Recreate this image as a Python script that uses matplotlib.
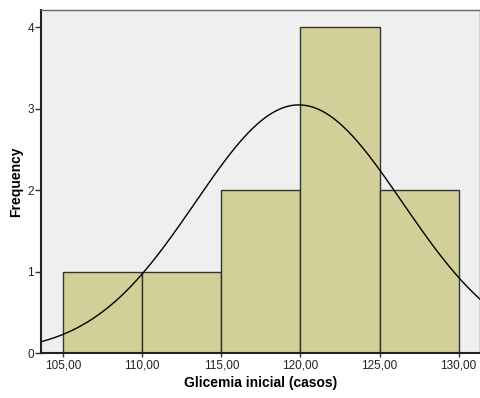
import numpy as np
import matplotlib
matplotlib.use('Agg')
import matplotlib.pyplot as plt

# Histogram data
bin_edges = [105, 110, 115, 120, 125, 130]
counts = [1, 1, 2, 4, 2]
x_ticks = [105, 110, 115, 120, 125, 130]
y_ticks = [0, 1, 2, 3, 4]
n_obs = 10
mean_val = 119.9
sd_val = 6.55

plt.rcParams['font.family'] = ['Liberation Sans', 'DejaVu Sans']

fig = plt.figure(figsize=(4.81, 3.98), dpi=100)
ax = fig.add_axes([41 / 481, 1 - 353 / 398, 439 / 481, 343 / 398])
ax.set_facecolor('#EFEFEF')

widths = np.diff(bin_edges)
ax.bar(bin_edges[:-1], counts, width=widths, align='edge',
       color='#D3CF98', edgecolor='#333333', linewidth=1.0, zorder=2)

# normal curve scaled to counts
xs = np.linspace(103.6, 131.4, 400)
bw = widths[0]
ys = n_obs * bw / (sd_val * np.sqrt(2 * np.pi)) * np.exp(-0.5 * ((xs - mean_val) / sd_val) ** 2)
ax.plot(xs, ys, color='black', linewidth=1.0, zorder=3)

ax.set_xlim(103.6, 131.35)
ax.set_ylim(0, 4.21)
ax.set_xticks(x_ticks)
ax.set_xticklabels([f'{v:.2f}'.replace('.', ',') for v in x_ticks], fontsize=8.5, color='#222222')
ax.set_yticks(y_ticks)
ax.set_yticklabels([str(v) for v in y_ticks], fontsize=8.5, color='#222222')
ax.tick_params(axis='y', length=4, width=1, color='#333333', pad=1)
ax.tick_params(axis='x', length=3, width=1, color='#333333', pad=2)

for s in ['left', 'bottom']:
    ax.spines[s].set_color('#222222')
    ax.spines[s].set_linewidth(1.5)
for s in ['top', 'right']:
    ax.spines[s].set_color('#666666')
    ax.spines[s].set_linewidth(1.0)

ax.set_xlabel('Glicemia inicial (casos)', fontsize=10, fontweight='bold', labelpad=3)
ax.set_ylabel('Frequency', fontsize=10, fontweight='bold', labelpad=3)

fig.savefig('out.png', dpi=100)
